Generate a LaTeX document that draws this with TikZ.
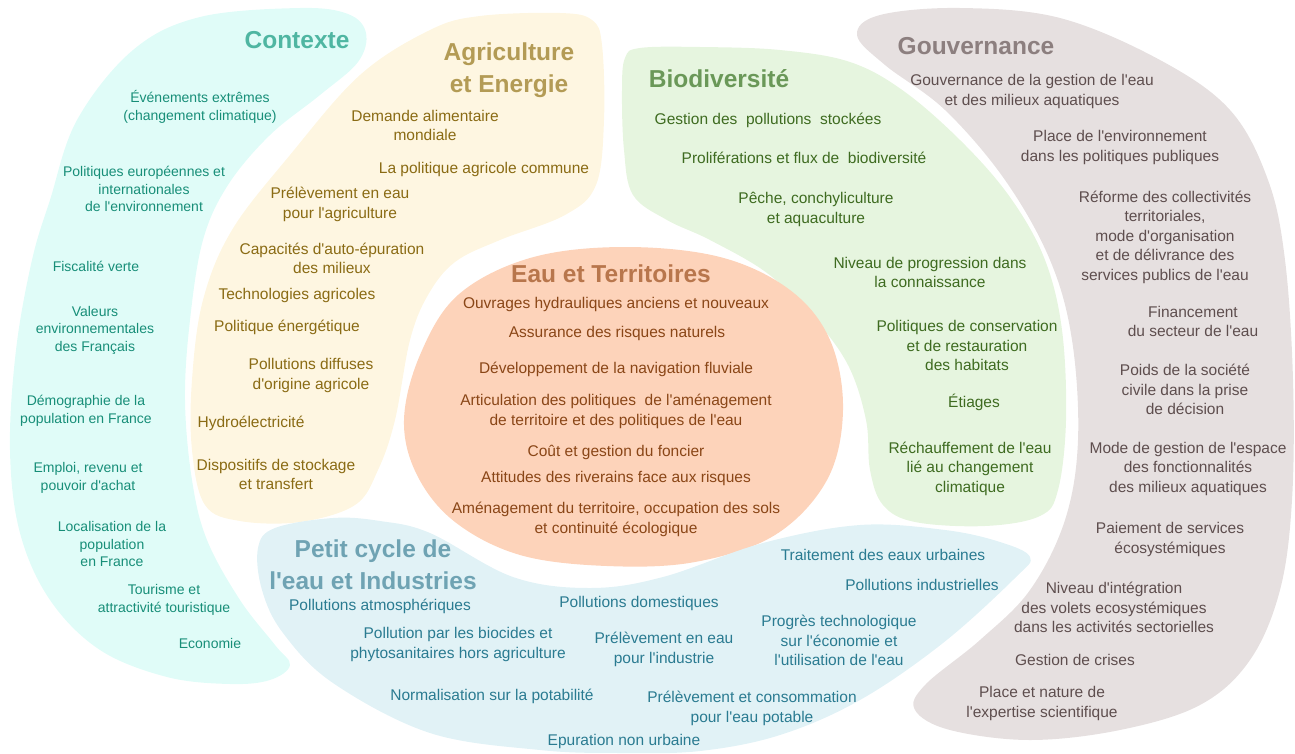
\documentclass[tikz,border=0pt]{standalone}
\usepackage{fontspec}
\setmainfont{Liberation Sans}[Ligatures=TeXOff]
\definecolor{cfill}{HTML}{E0FCF8}
\definecolor{ctitle}{HTML}{4FB6A2}
\definecolor{ctext}{HTML}{178E78}
\definecolor{afill}{HTML}{FEF6E1}
\definecolor{atitle}{HTML}{B39B55}
\definecolor{atext}{HTML}{8A6B14}
\definecolor{bfill}{HTML}{E6F5DF}
\definecolor{btitle}{HTML}{6A9858}
\definecolor{btext}{HTML}{3E6B20}
\definecolor{gfill}{HTML}{E6E0E0}
\definecolor{gtitle}{HTML}{8C7F7F}
\definecolor{gtext}{HTML}{5E4E4E}
\definecolor{efill}{HTML}{FDD3BA}
\definecolor{etitle}{HTML}{B8764C}
\definecolor{etext}{HTML}{8A4617}
\definecolor{pfill}{HTML}{E1F2F6}
\definecolor{ptitle}{HTML}{6FA3B3}
\definecolor{ptext}{HTML}{2A7B91}
\tikzset{
  lbl/.style={align=center, inner sep=0pt, yshift=-1.5pt, font=\fontsize{15.5}{19.5}\selectfont},
  slbl/.style={align=center, inner sep=0pt, yshift=-1pt, font=\fontsize{14}{17.5}\selectfont},
  ttl/.style={align=center, inner sep=0pt, font=\fontsize{24.5}{32}\selectfont\bfseries},
  blob/.style={smooth cycle, tension=0.6}
}
\begin{document}
\begin{tikzpicture}[x=1pt,y=-1pt]
\useasboundingbox (0,0) rectangle (1295,753);
% Contexte
\fill[cfill] plot[blob] coordinates {(200,17) (300,8) (348,14) (366,33) (358,62) (320,95) (270,135) (228,185) (203,240) (190,320) (185,400) (192,480) (207,540) (240,600) (275,645) (290,665) (270,680) (230,684) (167,677) (100,650) (50,600) (20,533) (10,450) (16,350) (32,260) (50,200) (77,120) (133,50)};
% Agriculture
\fill[afill] plot[blob] coordinates {(430,30) (480,16) (560,13) (592,20) (602,45) (604,120) (596,185) (565,215) (500,240) (455,262) (428,295) (410,340) (395,420) (378,470) (355,505) (300,522) (240,521) (205,505) (192,450) (192,380) (203,300) (232,230) (290,155) (360,75)};
% Biodiversite
\fill[bfill] plot[blob] coordinates {(625,58) (640,48) (700,47) (780,50) (850,62) (905,92) (965,145) (1012,200) (1045,260) (1062,330) (1066,420) (1058,490) (1040,516) (985,526) (915,522) (883,505) (870,470) (866,420) (848,365) (813,317) (767,273) (710,240) (667,220) (633,195) (624,150) (622,90)};
% Gouvernance
\fill[gfill] plot[blob] coordinates {(857,35) (880,15) (960,8) (1060,18) (1160,60) (1230,110) (1268,180) (1285,260) (1293,380) (1292,500) (1280,590) (1250,660) (1200,705) (1120,730) (1030,740) (950,730) (915,710) (925,685) (980,640) (1030,590) (1065,520) (1078,440) (1072,340) (1050,260) (1005,180) (945,110) (885,65)};
% Eau et Territoires
\fill[efill] plot[blob] coordinates {(623,247) (720,257) (790,290) (830,340) (843,410) (827,480) (775,535) (695,562) (607,566) (520,555) (455,522) (417,475) (404,420) (420,355) (458,295) (530,258)};
% Petit cycle
\fill[pfill] plot[blob] coordinates {(258,548) (275,528) (333,518) (380,521) (430,533) (513,577) (590,588) (663,577) (763,543) (860,525) (945,530) (1000,542) (1030,557) (1015,578) (943,643) (860,700) (780,735) (700,751) (620,753) (540,750) (430,733) (333,683) (283,633) (262,590)};

% Contexte texts
\node[ttl, text=ctitle] (c0) at (297,40) {Contexte};
\node[slbl, text=ctext] (c1) at (200,106) {Événements extrêmes\\(changement climatique)};
\node[slbl, text=ctext] (c2) at (144,188) {Politiques européennes et\\internationales\\de l'environnement};
\node[slbl, text=ctext] (c3) at (96,265) {Fiscalité verte};
\node[slbl, text=ctext] (c4) at (95,329) {Valeurs\\environnementales\\des Français};
\node[slbl, text=ctext] (c5) at (86,410) {Démographie de la\\population en France};
\node[slbl, text=ctext] (c6) at (88,477) {Emploi, revenu et\\pouvoir d'achat};
\node[slbl, text=ctext] (c7) at (112,543) {Localisation de la\\population\\en France};
\node[slbl, text=ctext] (c8) at (164,599) {Tourisme et\\attractivité touristique};
\node[slbl, text=ctext] (c9) at (210,642) {Economie};

% Agriculture texts
\node[ttl, text=atitle] (a0) at (509,70.5) {Agriculture\\et Energie};
\node[lbl, text=atext] (a1) at (425,124) {Demande alimentaire\\mondiale};
\node[lbl, text=atext] (a2) at (484,168) {La politique agricole commune};
\node[lbl, text=atext] (a3) at (340,203) {Prélèvement en eau\\pour l'agriculture};
\node[lbl, text=atext] (a4) at (332,257) {Capacités d'auto-épuration\\des milieux};
\node[lbl, text=atext] (a5) at (297,294) {Technologies agricoles};
\node[lbl, text=atext] (a6) at (287,326) {Politique énergétique};
\node[lbl, text=atext] (a7) at (311,374) {Pollutions diffuses\\d'origine agricole};
\node[lbl, text=atext] (a8) at (251,422) {Hydroélectricité};
\node[lbl, text=atext] (a9) at (276,473) {Dispositifs de stockage\\et transfert};

% Biodiversite texts
\node[ttl, text=btitle] (b0) at (719,79) {Biodiversité};
\node[lbl, text=btext] (b1) at (768,119) {Gestion des\ \ pollutions\ \ stockées};
\node[lbl, text=btext] (b2) at (804,156) {Proliférations et flux de\ \ biodiversité};
\node[lbl, text=btext] (b3) at (816,208) {Pêche, conchyliculture\\et aquaculture};
\node[lbl, text=btext] (b4) at (930,271) {Niveau de progression dans\\la connaissance};
\node[lbl, text=btext] (b5) at (967,344) {Politiques de conservation\\et de restauration\\des habitats};
\node[lbl, text=btext] (b6) at (974,401) {Étiages};
\node[lbl, text=btext] (b7) at (970,467) {Réchauffement de l'eau\\lié au changement\\climatique};

% Gouvernance texts
\node[ttl, text=gtitle] (g0) at (976,46) {Gouvernance};
\node[lbl, text=gtext] (g1) at (1032,90) {Gouvernance de la gestion de l'eau\\et des milieux aquatiques};
\node[lbl, text=gtext] (g2) at (1120,146) {Place de l'environnement\\dans les politiques publiques};
\node[lbl, text=gtext] (g3) at (1165,235.5) {Réforme des collectivités\\territoriales,\\mode d'organisation\\et de délivrance des\\services publics de l'eau};
\node[lbl, text=gtext] (g4) at (1193,320) {Financement\\du secteur de l'eau};
\node[lbl, text=gtext] (g5) at (1185,388) {Poids de la société\\civile dans la prise\\de décision};
\node[lbl, text=gtext] (g6) at (1188,467) {Mode de gestion de l'espace\\des fonctionnalités\\des milieux aquatiques};
\node[lbl, text=gtext] (g7) at (1170,538) {Paiement de services\\écosystémiques};
\node[lbl, text=gtext] (g8) at (1114,606) {Niveau d'intégration\\des volets ecosystémiques\\dans les activités sectorielles};
\node[lbl, text=gtext] (g9) at (1075,658) {Gestion de crises};
\node[lbl, text=gtext] (g10) at (1042,702) {Place et nature de\\l'expertise scientifique};

% Eau et Territoires texts
\node[ttl, text=etitle] (e0) at (611,274) {Eau et Territoires};
\node[lbl, text=etext] (e1) at (616,303) {Ouvrages hydrauliques anciens et nouveaux};
\node[lbl, text=etext] (e2) at (617,332) {Assurance des risques naturels};
\node[lbl, text=etext] (e3) at (616,368) {Développement de la navigation fluviale};
\node[lbl, text=etext] (e4) at (616,410) {Articulation des politiques\ \ de l'aménagement\\de territoire et des politiques de l'eau};
\node[lbl, text=etext] (e5) at (616,451) {Coût et gestion du foncier};
\node[lbl, text=etext] (e6) at (616,477) {Attitudes des riverains face aux risques};
\node[lbl, text=etext] (e7) at (616,518) {Aménagement du territoire, occupation des sols\\et continuité écologique};

% Petit cycle texts
\node[ttl, text=ptitle] (p0) at (373,565) {Petit cycle de\\l'eau et Industries};
\node[lbl, text=ptext] (p1) at (380,605) {Pollutions atmosphériques};
\node[lbl, text=ptext] (p2) at (458,643) {Pollution par les biocides et\\phytosanitaires hors agriculture};
\node[lbl, text=ptext] (p3) at (492,695) {Normalisation sur la potabilité};
\node[lbl, text=ptext] (p4) at (639,602) {Pollutions domestiques};
\node[lbl, text=ptext] (p5) at (664,648) {Prélèvement en eau\\pour l'industrie};
\node[lbl, text=ptext] (p6) at (752,707) {Prélèvement et consommation\\pour l'eau potable};
\node[lbl, text=ptext] (p7) at (624,740) {Epuration non urbaine};
\node[lbl, text=ptext] (p8) at (883,553) {Traitement des eaux urbaines};
\node[lbl, text=ptext] (p9) at (922,583) {Pollutions industrielles};
\node[lbl, text=ptext] (p10) at (839,639) {Progrès technologique\\sur l'économie et\\l'utilisation de l'eau};
\end{tikzpicture}
\end{document}
